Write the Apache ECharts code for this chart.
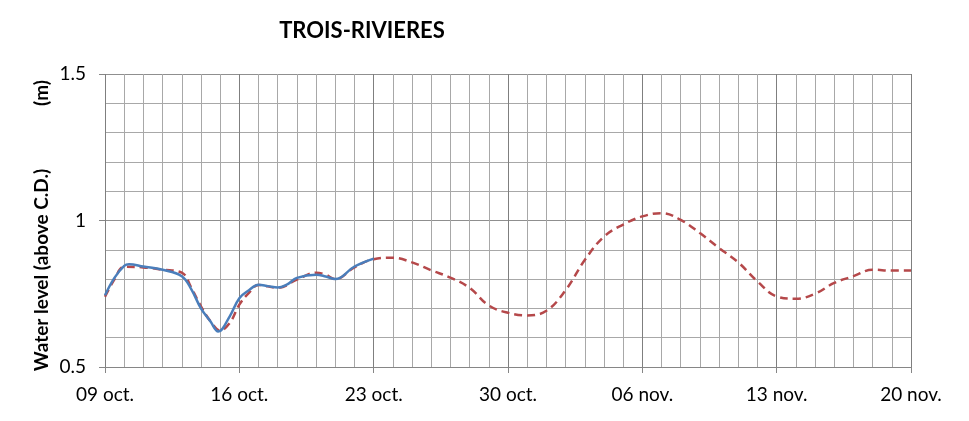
<!DOCTYPE html>
<html>
<head>
<meta charset="utf-8">
<script src="https://cdn.jsdelivr.net/npm/echarts@6/dist/echarts.min.js"></script>
<style>
html,body{margin:0;padding:0;background:#fff;}
#chart{width:969px;height:421px;}
</style>
</head>
<body>
<div id="chart"></div>
<script>
// Tick labels (every 7 days starting 09 oct.)
const tickLabels = ['09 oct.', '16 oct.', '23 oct.', '30 oct.', '06 nov.', '13 nov.', '20 nov.'];

// Observed water level (blue solid), day offset from 09 oct.
const obsDays   = [0, 0.5, 1, 1.25, 2, 3, 4, 4.5, 5, 5.5, 5.9, 6.5, 7, 7.5, 8, 8.5, 9, 9.5, 10, 11, 11.5, 12, 13, 14];
const obsLevels = [0.745, 0.805, 0.845, 0.851, 0.843, 0.832, 0.81, 0.765, 0.70, 0.655, 0.621, 0.673, 0.735, 0.762, 0.781, 0.776, 0.771, 0.782, 0.804, 0.815, 0.809, 0.80, 0.843, 0.87];

// Predicted water level (red dashed), day offset from 09 oct.
const predDays   = [0, 0.5, 1, 2, 3, 4, 4.5, 5, 5.5, 6, 6.5, 7, 7.5, 8, 9, 10, 11, 11.5, 12, 13, 14, 15, 16, 17, 18, 19, 20, 21, 22, 23, 24, 25, 26, 27, 28, 29, 30, 31, 32, 33, 34, 35, 36, 37, 38, 39, 40, 41, 42];
const predLevels = [0.74, 0.80, 0.842, 0.84, 0.832, 0.822, 0.77, 0.707, 0.656, 0.625, 0.65, 0.713, 0.753, 0.78, 0.77, 0.798, 0.822, 0.815, 0.80, 0.84, 0.868, 0.873, 0.857, 0.83, 0.805, 0.77, 0.71, 0.685, 0.676, 0.692, 0.762, 0.865, 0.945, 0.986, 1.014, 1.025, 1.002, 0.957, 0.906, 0.857, 0.792, 0.741, 0.733, 0.75, 0.787, 0.81, 0.832, 0.829, 0.829];

const pairs = (xs, ys) => xs.map((x, i) => [x, ys[i]]);

const chart = echarts.init(document.getElementById('chart'), null, {renderer: 'canvas'});
const FONT = 'Lato, "Open Sans", sans-serif';

chart.setOption({
  animation: false,
  backgroundColor: '#ffffff',
  grid: {left: 105, right: 58, top: 74, bottom: 54, containLabel: false},
  xAxis: {
    type: 'value', min: 0, max: 42, interval: 7,
    axisLine: {show: true, lineStyle: {color: '#868686', width: 1}},
    axisTick: {show: true, inside: false, length: 6, lineStyle: {color: '#868686'}},
    axisLabel: {
      show: true, margin: 18, color: '#000', fontFamily: FONT, fontSize: 19,
      formatter: v => tickLabels[Math.round(v / 7)] || ''
    },
    splitLine: {show: true, lineStyle: {color: '#7f7f7f', width: 1}},
    minorTick: {show: false, splitNumber: 7},
    minorSplitLine: {show: true, lineStyle: {color: '#a8a8a8', width: 1}}
  },
  yAxis: {
    type: 'value', min: 0.5, max: 1.5, interval: 0.5,
    axisLine: {show: false},
    axisTick: {show: true, inside: false, length: 6, lineStyle: {color: '#868686'}},
    axisLabel: {show: true, margin: 19, color: '#000', fontFamily: FONT, fontSize: 19},
    splitLine: {show: true, lineStyle: {color: '#8f8f8f', width: 1}},
    minorTick: {show: false, splitNumber: 5},
    minorSplitLine: {show: true, lineStyle: {color: '#a8a8a8', width: 1}}
  },
  graphic: [
    {type: 'text', x: 362, y: 31, style: {text: 'TROIS-RIVIERES', font: 'bold 22px ' + FONT, fill: '#000', textAlign: 'center', textVerticalAlign: 'middle'}},
    {type: 'text', x: 42, y: 270, rotation: Math.PI / 2, style: {text: 'Water level (above C.D.)', font: 'bold 19px ' + FONT, fill: '#000', textAlign: 'center', textVerticalAlign: 'middle'}},
    {type: 'text', x: 42, y: 93, rotation: Math.PI / 2, style: {text: '(m)', font: 'bold 19px ' + FONT, fill: '#000', textAlign: 'center', textVerticalAlign: 'middle'}}
  ],
  series: [
    {
      name: 'Predicted', type: 'line', data: pairs(predDays, predLevels),
      smooth: 0.4, showSymbol: false, symbol: 'none',
      lineStyle: {color: '#b5484a', width: 2.5, type: [8, 5]}
    },
    {
      name: 'Observed', type: 'line', data: pairs(obsDays, obsLevels),
      smooth: 0.4, showSymbol: false, symbol: 'none',
      lineStyle: {color: '#4a7ebb', width: 2.5, type: 'solid'}
    }
  ]
});
</script>
</body>
</html>
